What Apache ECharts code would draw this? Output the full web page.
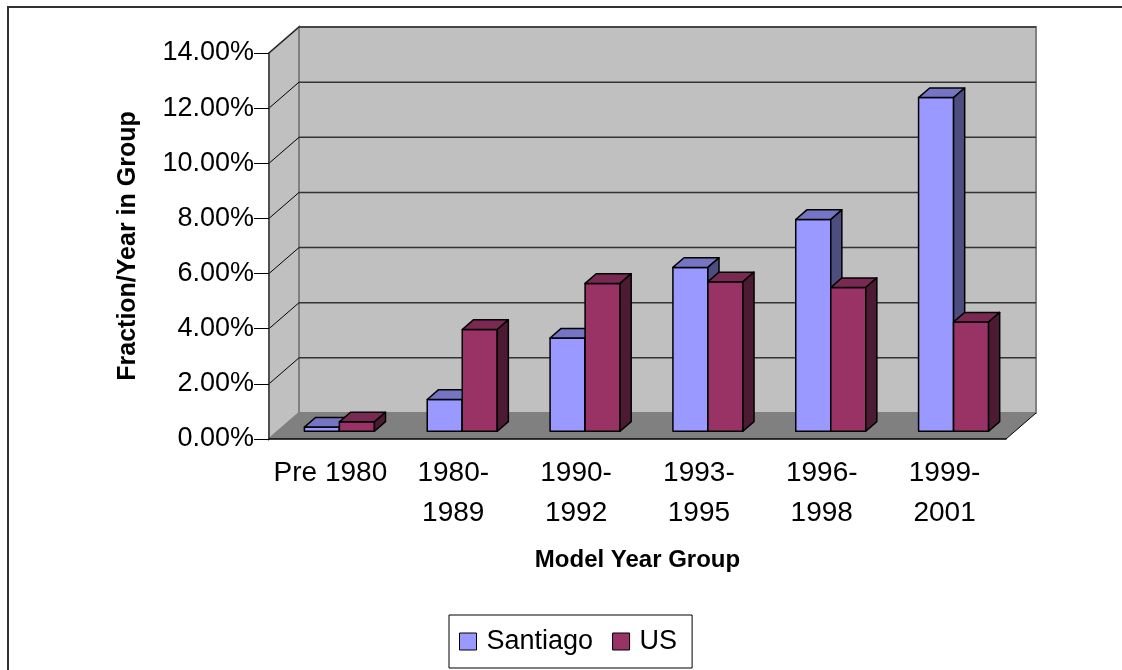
<!DOCTYPE html>
<html>
<head>
<meta charset="utf-8">
<script src="https://cdn.jsdelivr.net/npm/echarts@6/dist/echarts.min.js"></script>
<style>
  html, body { margin: 0; padding: 0; background: #fff; }
  #chart { width: 1122px; height: 670px; }
</style>
</head>
<body>
<div id="chart"></div>
<script>
var categories = ['Pre 1980', '1980-\n1989', '1990-\n1992', '1993-\n1995', '1996-\n1998', '1999-\n2001'];
var santiago = [0.0015, 0.0115, 0.0338, 0.0594, 0.0768, 0.1210];
var us = [0.0034, 0.0369, 0.0536, 0.0542, 0.0521, 0.0396];
var yTicks = [0, 0.02, 0.04, 0.06, 0.08, 0.10, 0.12, 0.14];

// fake 3d depth, excel style
var DX = 30, DY = -26;
var FONT = 'Liberation Sans, Arial, sans-serif';

var faceColors = [
    { front: '#9999ff', top: '#7575c4', side: '#4d4d80' },
    { front: '#993366', top: '#7a2952', side: '#4d1a33' }
];

function pairs(arr) {
    return arr.map(function (v, i) { return [i, v]; });
}

function renderWalls(params, api) {
    var cs = params.coordSys;
    var x = cs.x, y = cs.y, w = cs.width, h = cs.height;
    var children = [];
    // side wall
    children.push({
        type: 'polygon',
        shape: { points: [[x, y + h], [x + DX, y + h + DY], [x + DX, y + DY], [x, y]] },
        style: { fill: '#c0c0c0', stroke: '#808080', lineWidth: 2 }
    });
    // back wall
    children.push({
        type: 'rect',
        shape: { x: x + DX, y: y + DY, width: w, height: h },
        style: { fill: '#c0c0c0', stroke: '#808080', lineWidth: 2 }
    });
    // floor
    children.push({
        type: 'polygon',
        shape: { points: [[x, y + h], [x + w, y + h], [x + w + DX, y + h + DY], [x + DX, y + h + DY]] },
        style: { fill: '#808080', stroke: null }
    });
    children.push({
        type: 'line',
        shape: { x1: x + w, y1: y + h, x2: x + w + DX, y2: y + h + DY },
        style: { stroke: '#000', lineWidth: 1 }
    });
    yTicks.forEach(function (t) {
        if (t === 0) return;
        var p = api.coord([0, t]);
        children.push({
            type: 'line',
            shape: { x1: x + DX, y1: p[1] + DY, x2: x + w + DX, y2: p[1] + DY },
            style: { stroke: '#333', lineWidth: 1.5 }
        });
        children.push({
            type: 'line',
            shape: { x1: x, y1: p[1], x2: x + DX, y2: p[1] + DY },
            style: { stroke: '#000', lineWidth: 1 }
        });
    });
    return { type: 'group', children: children };
}

function makeBarRenderer(sIdx) {
    return function (params, api) {
        var i = api.value(0), v = api.value(1);
        var base = api.coord([i, 0]);
        var topP = api.coord([i, v]);
        var catW = api.size([1, 0])[0];
        var bw = catW * 0.285;
        var gap = (catW - 2 * bw) / 2;
        var x0 = base[0] - catW / 2 + gap + sIdx * bw + DX * 0.3;
        var yb = base[1] + DY * 0.3;
        var yt = topP[1] + DY * 0.3;
        var ddx = DX * 0.37, ddy = DY * 0.37;
        var c = faceColors[sIdx];
        var line = { stroke: '#000', lineWidth: 1.5, lineJoin: 'round' };
        return {
            type: 'group',
            children: [
                {
                    type: 'polygon',
                    shape: { points: [[x0, yt], [x0 + bw, yt], [x0 + bw, yb], [x0, yb]] },
                    style: Object.assign({ fill: c.front }, line)
                },
                {
                    type: 'polygon',
                    shape: { points: [[x0, yt], [x0 + bw, yt], [x0 + bw + ddx, yt + ddy], [x0 + ddx, yt + ddy]] },
                    style: Object.assign({ fill: c.top }, line)
                },
                {
                    type: 'polygon',
                    shape: { points: [[x0 + bw, yt], [x0 + bw + ddx, yt + ddy], [x0 + bw + ddx, yb + ddy], [x0 + bw, yb]] },
                    style: Object.assign({ fill: c.side }, line)
                }
            ]
        };
    };
}

var chart = echarts.init(document.getElementById('chart'), null, { renderer: 'canvas' });

chart.setOption({
    animation: false,
    backgroundColor: '#fff',
    textStyle: { fontFamily: FONT },
    grid: { left: 269, top: 53, width: 737, height: 386 },
    graphic: [{
        type: 'rect',
        shape: { x: 8, y: 7, width: 1300, height: 800 },
        style: { fill: null, stroke: '#333', lineWidth: 2 },
        silent: true
    }],
    legend: {
        data: ['Santiago', 'US'],
        left: 449,
        top: 615,
        padding: [13, 15, 13, 10],
        borderColor: '#000',
        borderWidth: 1,
        itemWidth: 17,
        itemHeight: 17,
        itemGap: 19,
        icon: 'rect',
        itemStyle: { borderColor: '#000', borderWidth: 1 },
        textStyle: { fontSize: 27, color: '#000', fontFamily: FONT, padding: [0, 0, 0, 5] }
    },
    xAxis: {
        type: 'category',
        data: categories,
        z: 5,
        name: 'Model Year Group',
        nameLocation: 'middle',
        nameGap: 109,
        nameTextStyle: { fontSize: 24, fontWeight: 'bold', color: '#000', fontFamily: FONT },
        axisLine: { lineStyle: { color: '#000', width: 1.5 } },
        axisTick: { length: 9, lineStyle: { color: '#000' } },
        axisLabel: { fontSize: 28, color: '#000', lineHeight: 40, margin: 14, interval: 0, fontFamily: FONT },
        splitLine: { show: false }
    },
    yAxis: {
        type: 'value',
        min: 0,
        max: 0.14,
        interval: 0.02,
        z: 5,
        name: 'Fraction/Year in Group',
        nameLocation: 'middle',
        nameRotate: 90,
        nameGap: 128,
        nameTextStyle: { fontSize: 25, fontWeight: 'bold', color: '#000', fontFamily: FONT },
        axisLine: { show: true, lineStyle: { color: '#404040', width: 1.5 } },
        axisTick: { show: true, length: 15, lineStyle: { color: '#000' } },
        axisLabel: {
            fontSize: 27, color: '#000', margin: 15, fontFamily: FONT,
            formatter: function (v) { return (v * 100).toFixed(2) + '%'; }
        },
        splitLine: { show: false }
    },
    series: [
        {
            type: 'custom',
            name: 'walls',
            z: 1,
            silent: true,
            data: [[0, 0]],
            renderItem: renderWalls
        },
        {
            type: 'custom',
            name: 'Santiago',
            z: 2,
            itemStyle: { color: faceColors[0].front },
            data: pairs(santiago),
            encode: { x: 0, y: 1 },
            renderItem: makeBarRenderer(0)
        },
        {
            type: 'custom',
            name: 'US',
            z: 2,
            itemStyle: { color: faceColors[1].front },
            data: pairs(us),
            encode: { x: 0, y: 1 },
            renderItem: makeBarRenderer(1)
        }
    ]
});
</script>
</body>
</html>
